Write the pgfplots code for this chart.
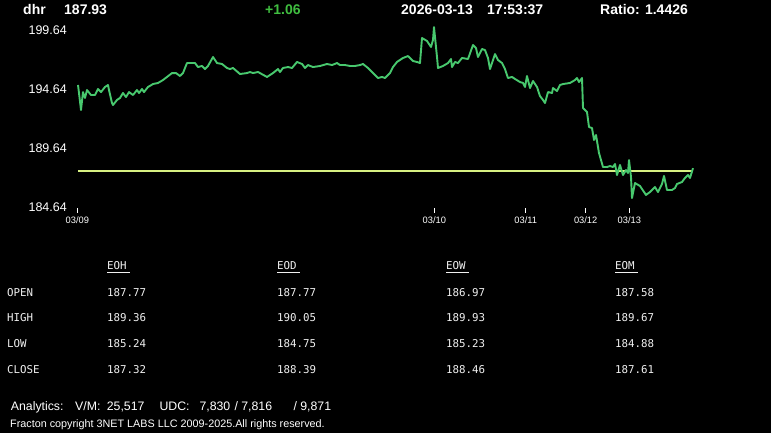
\documentclass[border=0pt]{standalone}
\usepackage{fontspec}
\setmainfont{Liberation Sans}
\newfontfamily\mono{DejaVu Sans Mono}
\usepackage{pgfplots}
\pgfplotsset{compat=1.18}
\usepackage{pgfplotstable}
\definecolor{lineg}{RGB}{72,200,110}
\definecolor{hdrg}{RGB}{64,190,64}
\definecolor{ylw}{RGB}{215,240,130}
\definecolor{tbl}{RGB}{240,240,240}
\pgfplotstableread{
x y
78 194.98
79 194.30
81 192.86
83 194.38
85 193.88
87 194.55
91 194.13
95 194.13
98 194.64
101 194.38
105 194.81
108 194.98
109 194.55
112 193.45
113 193.28
117 193.71
120 193.88
123 194.30
126 193.96
129 194.38
133 194.13
137 194.55
139 194.30
142 194.64
144 194.38
148 194.81
153 195.06
158 195.15
163 195.40
167 195.66
172 195.99
176 195.99
180 195.74
183 195.99
187 196.84
195 196.84
198 196.50
202 196.59
205 196.33
208 196.59
213 197.35
217 196.84
222 196.76
227 196.42
230 196.33
233 196.42
240 195.91
247 195.99
250 196.08
253 195.99
258 196.08
267 195.66
273 195.99
278 196.33
280 196.08
283 196.42
288 196.50
292 196.42
297 196.93
302 196.76
305 196.42
308 196.67
313 196.50
320 196.59
327 196.76
332 196.67
337 196.84
340 196.67
345 196.67
350 196.59
355 196.59
360 196.67
363 196.76
368 196.42
373 195.99
378 195.57
382 195.66
385 195.57
390 195.99
393 196.50
397 196.93
403 197.27
408 197.43
413 197.01
417 196.93
420 196.84
422 198.96
427 198.71
431 198.20
433 198.79
434 199.89
437 197.35
438 196.42
443 196.59
448 196.84
451 197.18
452 196.50
455 196.93
458 196.84
462 197.27
468 197.18
473 198.37
476 198.11
478 197.35
482 198.03
485 197.94
488 197.27
490 196.33
495 197.60
498 197.10
502 196.84
505 196.33
508 195.57
512 195.66
515 195.49
520 195.23
523 195.15
525 194.81
527 195.74
530 194.72
533 195.32
537 194.81
540 194.04
543 193.71
545 193.45
548 194.38
552 194.30
553 194.72
557 194.47
560 194.98
563 195.06
570 195.15
575 195.40
577 195.57
579 195.23
582 195.57
583 193.03
587 192.69
589 191.42
592 191.33
594 190.32
596 190.74
599 189.21
603 188.03
607 188.03
610 188.11
613 188.03
615 188.28
617 187.35
620 188.20
623 187.35
626 187.77
628 187.52
629 188.62
631 187.18
632 185.40
635 186.67
640 186.42
646 185.66
650 185.91
655 186.33
658 185.91
662 186.59
664 187.27
667 186.08
672 186.08
675 186.25
677 186.59
682 186.76
685 187.10
688 187.35
690 187.10
693 187.93
}\price
\begin{document}
\begin{tikzpicture}[x=1pt,y=1pt]
\useasboundingbox (0,0) rectangle (771,433);
\fill[black] (0,0) rectangle (771,433);
% header
\begin{scope}[every node/.style={anchor=base west,inner sep=0pt,text=white,font=\fontsize{14pt}{16pt}\selectfont\bfseries}]
\node at (23,418.5) {dhr};
\node at (64,418.5) {187.93};
\node[text=hdrg] at (265,418.5) {+1.06};
\node at (401,418.5) {2026-03-13};
\node at (487,418.5) {17:53:37};
\node at (600,418.5) {Ratio: 1.4426};
\end{scope}
\begin{axis}[
  at={(77pt,226pt)}, anchor=south west,
  scale only axis, width=616pt, height=177pt,
  xmin=77, xmax=693, ymin=184.64, ymax=199.64,
  axis line style={draw=none},
  clip=false,
  xtick={77.3,434.3,525.7,585.7,629.3},
  xticklabels={03/09,03/10,03/11,03/12,03/13},
  xtick pos=bottom, tick align=outside, major tick length=5pt,
  x tick style={white, line width=0.8pt, yshift=-1pt},
  xticklabel style={text=white, font=\fontsize{9.3pt}{10pt}\selectfont, inner sep=1.5pt, yshift=-3.5pt},
  ytick={184.64,189.64,194.64,199.64},
  yticklabels={184.64,189.64,194.64,199.64},
  ytick pos=left, y tick style={draw=none},
  yticklabel style={text=white, font=\fontsize{12.5pt}{14pt}\selectfont, anchor=east, inner sep=0pt, xshift=-5pt},
]
\addplot[ylw, line width=1.7pt] coordinates {(78,187.70) (693,187.70)};
\addplot[lineg, line width=1.9pt, line join=round] table[x=x,y=y] {\price};
\end{axis}
% table
\begin{scope}[every node/.style={anchor=base west,inner sep=0pt,text=tbl,font=\fontsize{10.8pt}{12pt}\selectfont\mono}]
\node at (107,163) {EOH};
\node at (277,163) {EOD};
\node at (446,163) {EOW};
\node at (615,163) {EOM};
\draw[tbl, line width=1.2pt] (107,160.3) -- (130,160.3);
\draw[tbl, line width=1.2pt] (277,160.3) -- (300,160.3);
\draw[tbl, line width=1.2pt] (446,160.3) -- (469,160.3);
\draw[tbl, line width=1.2pt] (615,160.3) -- (638,160.3);
\node at (7,136.8) {OPEN};
\node at (7,111.4) {HIGH};
\node at (7,85.8) {LOW};
\node at (7,59.8) {CLOSE};
\node at (107,136.8) {187.77};
\node at (107,111.4) {189.36};
\node at (107,85.8) {185.24};
\node at (107,59.8) {187.32};
\node at (277,136.8) {187.77};
\node at (277,111.4) {190.05};
\node at (277,85.8) {184.75};
\node at (277,59.8) {188.39};
\node at (446,136.8) {186.97};
\node at (446,111.4) {189.93};
\node at (446,85.8) {185.23};
\node at (446,59.8) {188.46};
\node at (615,136.8) {187.58};
\node at (615,111.4) {189.67};
\node at (615,85.8) {184.88};
\node at (615,59.8) {187.61};
\end{scope}
% footer
\begin{scope}[every node/.style={anchor=base west,inner sep=0pt,text=white,font=\fontsize{12.3pt}{14pt}\selectfont}]
\node at (10.7,22.6) {Analytics:};
\node at (75,22.6) {V/M:};
\node at (106.7,22.6) {25,517};
\node at (159.3,22.6) {UDC:};
\node at (199.3,22.6) {7,830};
\node at (234.3,22.6) {/ 7,816};
\node at (293.3,22.6) {/ 9,871};
\node[font=\fontsize{10.8pt}{12pt}\selectfont] at (10,5) {Fracton copyright 3NET LABS LLC 2009-2025.All rights reserved.};
\end{scope}
\end{tikzpicture}
\end{document}
